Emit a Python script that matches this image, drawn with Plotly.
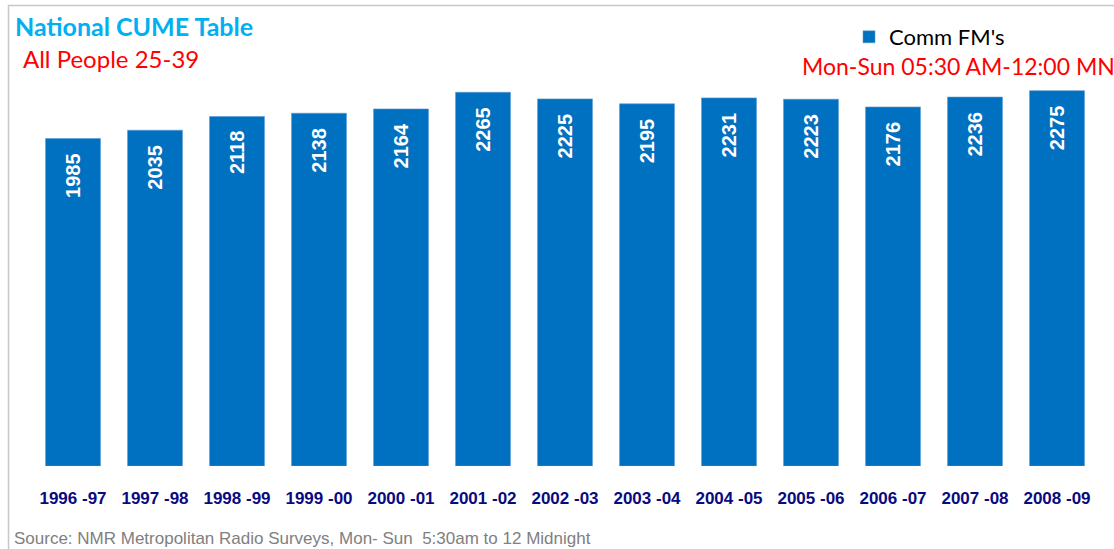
import plotly.graph_objects as go

# Commercial FM cumulative audience, all people 25-39
seasons = ["1996 -97", "1997 -98", "1998 -99", "1999 -00", "2000 -01", "2001 -02",
           "2002 -03", "2003 -04", "2004 -05", "2005 -06", "2006 -07", "2007 -08",
           "2008 -09"]
cume = [1985, 2035, 2118, 2138, 2164, 2265, 2225, 2195, 2231, 2223, 2176, 2236, 2275]

W, H = 1114, 549
L, R, T, B = 32, 16, 70, 83
PW, PH = W - L - R, H - T - B


def px(xp):
    return (xp - L) / PW


def py(yp):
    return (H - B - yp) / PH


BLUE = "#0070C0"
TITLE_FONT = "Lato, Arial, sans-serif"

fig = go.Figure()
fig.add_trace(go.Bar(
    x=seasons, y=cume, name="Comm FM's",
    marker=dict(color=BLUE, line=dict(color="#5B9BD5", width=0.6)),
))

# value labels, rotated, near the top inside each bar
for s, v in zip(seasons, cume):
    fig.add_annotation(
        x=s, y=v, xref="x", yref="y", text=f"<b>{v}</b>", showarrow=False,
        textangle=-90, yanchor="top", xanchor="center", yshift=-13,
        font=dict(family="Arial, Liberation Sans, sans-serif", size=20, color="white"),
    )

fig.add_annotation(
    x=px(13), y=py(26), xref="paper", yref="paper", xanchor="left", yanchor="middle",
    text="<b>National CUME Table</b>", showarrow=False,
    font=dict(family=TITLE_FONT, size=25, color="#00B0F0"),
)
fig.add_annotation(
    x=px(21), y=py(58), xref="paper", yref="paper", xanchor="left", yanchor="middle",
    text="All People 25-39", showarrow=False,
    font=dict(family=TITLE_FONT, size=24, color="#FF0000"),
)
fig.add_annotation(
    x=px(800), y=py(66), xref="paper", yref="paper", xanchor="left", yanchor="middle",
    text="Mon-Sun 05:30 AM-12:00 MN", showarrow=False,
    font=dict(family=TITLE_FONT, size=23, color="#FF0000"),
)
fig.add_annotation(
    x=px(12), y=py(538), xref="paper", yref="paper", xanchor="left", yanchor="middle",
    text="Source: NMR Metropolitan Radio Surveys, Mon- Sun  5:30am to 12 Midnight",
    showarrow=False,
    font=dict(family="Arial, Liberation Sans, sans-serif", size=17, color="#808080"),
)

# light frame along the top and left edges
fig.add_shape(
    type="path", xref="paper", yref="paper",
    path=f"M {px(8.5)} {py(560)} L {px(8.5)} {py(5.5)} L {px(1120)} {py(5.5)}",
    line=dict(color="#C8C8C8", width=1.5),
)

fig.update_layout(
    width=W, height=H,
    margin=dict(l=L, r=R, t=T, b=B),
    paper_bgcolor="white", plot_bgcolor="white",
    bargap=0.33,
    showlegend=True,
    legend=dict(
        x=px(849), y=py(37), xanchor="left", yanchor="middle",
        font=dict(family=TITLE_FONT, size=22, color="black"),
        bgcolor="rgba(0,0,0,0)",
    ),
    xaxis=dict(
        showline=False, showgrid=False, ticks="", ticklabelstandoff=20,
        tickfont=dict(family="Arial, Liberation Sans, sans-serif", size=17, color="#0A0A80"),
        tickprefix="<b>", ticksuffix="</b>",
    ),
    yaxis=dict(range=[0, 2400], visible=False, showgrid=False, zeroline=False),
)

fig.write_html("out.html")
